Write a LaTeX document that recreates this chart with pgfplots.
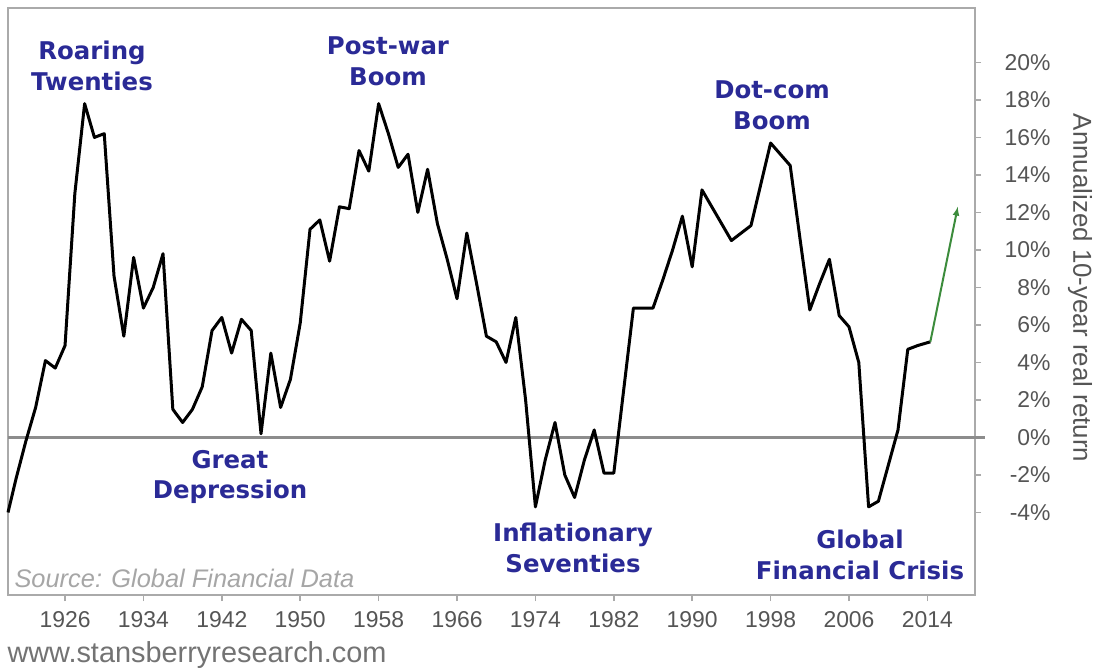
\documentclass[border=0pt]{standalone}
\usepackage{pgfplots}
\pgfplotsset{compat=1.18}
\usepackage{fontspec}
\setmainfont{Liberation Sans}
\newfontfamily\annfont{DejaVu Sans}
\definecolor{anncol}{RGB}{42,42,150}
\definecolor{framecol}{RGB}{170,170,170}
\definecolor{zerocol}{RGB}{140,140,140}
\definecolor{tickcol}{RGB}{85,85,85}
\definecolor{arrowgreen}{RGB}{60,140,60}

\pgfplotstableread{
year val
1920.18 -4.0
1921 -2.2
1922 -0.2
1923 1.6
1924 4.1
1925 3.7
1926 4.9
1927 13.0
1928 17.8
1929 16.0
1930 16.2
1931 8.6
1932 5.4
1933 9.6
1934 6.9
1935 8.0
1936 9.8
1937 1.5
1938 0.8
1939 1.5
1940 2.7
1941 5.7
1942 6.4
1943 4.5
1944 6.3
1945 5.7
1946 0.2
1947 4.5
1948 1.6
1949 3.1
1950 6.1
1951 11.1
1952 11.6
1953 9.4
1954 12.3
1955 12.2
1956 15.3
1957 14.2
1958 17.8
1959 16.2
1960 14.4
1961 15.1
1962 12.0
1963 14.3
1964 11.4
1965 9.5
1966 7.4
1967 10.9
1968 8.2
1969 5.4
1970 5.1
1971 4.0
1972 6.4
1973 2.0
1974 -3.7
1975 -1.2
1976 0.8
1977 -2.0
1978 -3.2
1979 -1.2
1980 0.4
1981 -1.9
1982 -1.9
1983 2.5
1984 6.9
1985 6.9
1986 6.9
1987 8.4
1988 10.0
1989 11.8
1990 9.1
1991 13.2
1992 12.3
1993 11.4
1994 10.5
1995 10.9
1996 11.3
1997 13.5
1998 15.7
1999 15.1
2000 14.5
2001 10.6
2002 6.8
2003 8.2
2004 9.5
2005 6.5
2006 5.9
2007 4.0
2008 -3.7
2009 -3.4
2010 -1.5
2011 0.4
2012 4.7
2013 4.9
2014.3 5.1
}\returns

\pgfplotstableread{
year val
2014.3 5.1
2017.1 12.3
}\projection

\begin{document}
\begin{tikzpicture}[x=1bp,y=1bp]
\useasboundingbox[fill=white] (0,0) rectangle (1095,-671);
\begin{axis}[
  at={(8bp,-8bp)}, anchor=north west,
  scale only axis, width=967bp, height=587bp,
  xmin=1920.18, xmax=2018.86, ymin=-8.4, ymax=22.9,
  clip=false,
  axis line style={draw=framecol, line width=2.5bp},
  xtick={1926,1934,1942,1950,1958,1966,1974,1982,1990,1998,2006,2014},
  xticklabels={1926,1934,1942,1950,1958,1966,1974,1982,1990,1998,2006,2014},
  xtick pos=left,
  ytick={-4,-2,0,2,4,6,8,10,12,14,16,18,20},
  yticklabels={-4\%,-2\%,0\%,2\%,4\%,6\%,8\%,10\%,12\%,14\%,16\%,18\%,20\%},
  ytick pos=right,
  tick align=outside,
  major tick length=6bp,
  tick style={draw=framecol, line width=1.5bp},
  ticklabel style={font=\fontsize{23}{25}\selectfont, text=tickcol},
  yticklabel style={anchor=east, xshift=73bp},
  xticklabel style={yshift=-7bp},
]
\draw[zerocol, line width=2.5bp] (axis cs:1920.18,0) -- (axis cs:2019.9,0);
\addplot[black, line width=3bp, line join=round, no markers] table[x=year,y=val] {\returns};
\addplot[arrowgreen, line width=2bp, no markers, -{latex}] table[x=year,y=val] {\projection};
\end{axis}

\begin{scope}[every node/.style={align=center, text=anncol, font=\annfont\bfseries\fontsize{24.5}{31}\selectfont}]
\node at (92,-66) {Roaring\\Twenties};
\node at (388,-61) {Post-war\\Boom};
\node at (772,-105) {Dot-com\\Boom};
\node at (230,-477) {Great\\Depression};
\node at (573,-548) {Inflationary\\Seventies};
\node at (860,-555) {Global\\Financial Crisis};
\end{scope}

\node[anchor=west, text=black!35, font=\itshape\fontsize{25.5}{27}\selectfont] at (11,-578) {Source: Global Financial Data};
\node[anchor=west, text=black!55, font=\fontsize{29}{31}\selectfont] at (4,-655) {www.stansberryresearch.com};
\node[rotate=-90, text=tickcol, font=\fontsize{26}{28}\selectfont] at (1080,-288) {Annualized 10-year real return};
\end{tikzpicture}
\end{document}
